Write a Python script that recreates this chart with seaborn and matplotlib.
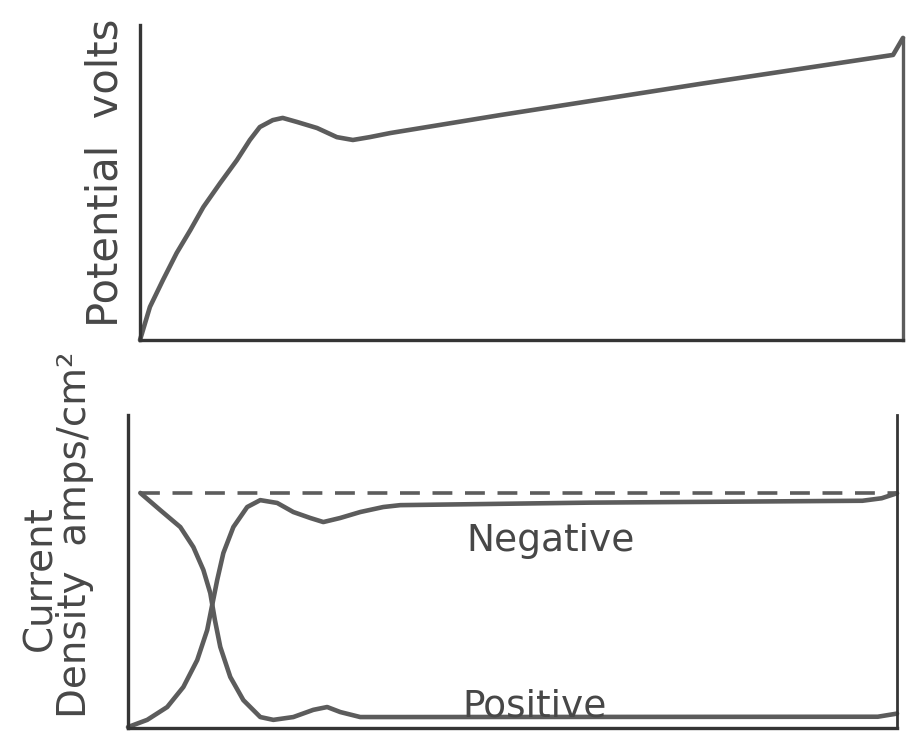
import numpy as np
import pandas as pd
import matplotlib
matplotlib.use("Agg")
import matplotlib.pyplot as plt
import seaborn as sns

# ---- data (arbitrary units) ----
time_top = [0, 1.3, 3.0, 4.8, 6.6, 8.3, 10.5, 12.7, 14.4, 15.7, 17.4, 18.7, 20.6, 23.2,
            25.8, 27.9, 30.1, 32.8, 47.2, 73.4, 98.7, 100.0]
potential = [0, 10.5, 19.0, 27.6, 34.9, 42.2, 49.8, 57.1, 63.5, 67.6, 69.8, 70.5, 69.2, 67.3,
             64.4, 63.5, 64.4, 65.7, 71.4, 81.3, 90.5, 95.9]

time_neg = [0, 2.5, 5.1, 7.2, 9.0, 10.3, 10.9, 11.6, 12.4, 13.7, 15.5, 17.2, 19.4, 21.5,
            23.7, 25.4, 27.6, 30.2, 33.2, 35.4, 60.0, 95.5, 98.0, 100.0]
negative = [0.3, 2.6, 6.7, 13.1, 21.7, 31.3, 38.7, 47.3, 55.9, 64.2, 70.6, 72.8, 71.9, 69.0,
            67.1, 65.8, 67.1, 69.0, 70.6, 71.2, 72.0, 72.6, 73.4, 75.0]

time_pos = [1.6, 4.2, 6.8, 8.5, 9.8, 10.7, 11.3, 12.0, 13.3, 15.0, 17.2, 18.9, 21.5, 24.1,
            25.9, 27.6, 30.2, 35.4, 97.5, 100.0]
positive = [75.1, 69.6, 64.2, 57.8, 50.5, 43.1, 34.5, 25.9, 16.3, 8.9, 3.5, 2.6, 3.5, 5.8,
            6.7, 5.1, 3.5, 3.5, 3.6, 4.6]

limiting_current = 75.1

top_ylabel = "Potential  volts"
bottom_ylabel_1 = "Current"
bottom_ylabel_2 = "Density  amps/cm²"
neg_label = "Negative"
pos_label = "Positive"

# ---- style ----
sns.set_theme(style="white")
plt.rcParams["font.family"] = ["DejaVu Sans"]

W, H = 906, 733
fig = plt.figure(figsize=(W / 100, H / 100), dpi=100)
fig.patch.set_facecolor("white")

curve_col = "#5c5c5c"
axis_col = "#353535"
text_col = "#474747"
LW = 3.3

def px_axes(l, t, r, b):
    return fig.add_axes([l / W, (H - b) / H, (r - l) / W, (b - t) / H])

# top panel
ax1 = px_axes(140, 25, 903, 340)
df_top = pd.DataFrame({"t": time_top, "v": potential})
sns.lineplot(data=df_top, x="t", y="v", ax=ax1, color=curve_col, linewidth=LW,
             sort=False, estimator=None, clip_on=False, solid_joinstyle="round",
             solid_capstyle="round")
ax1.set_xlim(0, 100)
ax1.set_ylim(0, 100)

# bottom panel
ax2 = px_axes(128, 415, 897, 728)
df_neg = pd.DataFrame({"t": time_neg, "i": negative})
df_pos = pd.DataFrame({"t": time_pos, "i": positive})
for d in (df_neg, df_pos):
    sns.lineplot(data=d, x="t", y="i", ax=ax2, color=curve_col, linewidth=LW,
                 sort=False, estimator=None, clip_on=False, solid_joinstyle="round",
                 solid_capstyle="round")
ax2.hlines(limiting_current, 1.6, 100, colors=curve_col, linestyles=(0, (5.5, 3.5)), lw=2.6)
ax2.set_xlim(0, 100)
ax2.set_ylim(0, 100)

for ax in (ax1, ax2):
    ax.set_xlabel("")
    ax.set_ylabel("")
    ax.set_xticks([])
    ax.set_yticks([])
    ax.set_facecolor("none")
    ax.spines["top"].set_visible(False)
    for s in ("left", "bottom", "right"):
        ax.spines[s].set_visible(True)
        ax.spines[s].set_color(axis_col)
        ax.spines[s].set_linewidth(2.4)
ax1.spines["right"].set_bounds(0, 95.9)
ax1.spines["right"].set_color(curve_col)
ax2.spines["right"].set_linewidth(2.0)

# labels
fig.text(106 / W, 1 - 173 / H, top_ylabel, rotation=90, ha="center", va="center",
         fontsize=30, color=text_col)
fig.text(40 / W, 1 - 578 / H, bottom_ylabel_1, rotation=90, ha="center", va="center",
         fontsize=28, color=text_col)
fig.text(75 / W, 1 - 535 / H, bottom_ylabel_2, rotation=90, ha="center", va="center",
         fontsize=28, color=text_col)

ax2.text(44.0, 56.5, neg_label, ha="left", va="baseline", fontsize=27, color=text_col)
ax2.text(43.5, 3.8, pos_label, ha="left", va="baseline", fontsize=27, color=text_col)

fig.savefig("out.png", dpi=100, facecolor="white")
